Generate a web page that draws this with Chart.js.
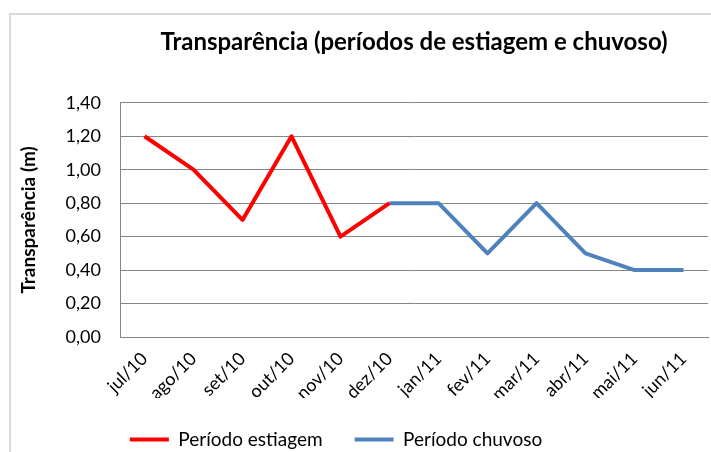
<!DOCTYPE html>
<html>
<head>
<meta charset="utf-8">
<script src="https://cdn.jsdelivr.net/npm/chart.js@4.4.0/dist/chart.umd.min.js"></script>
<style>
  html, body { margin: 0; padding: 0; background: #ffffff; overflow: hidden; width: 711px; height: 452px; }
  #frame { position: absolute; left: 9px; top: 13px; width: 760px; height: 500px; border-top: 2px solid #d9d9d9; border-left: 2px solid #d9d9d9; }
  #wrap { position: absolute; left: -36px; top: 0; width: 764px; height: 459px; }
</style>
</head>
<body>
<div id="frame"></div>
<div id="wrap"><canvas id="c" width="764" height="459"></canvas></div>
<script>
const categories = ['jul/10','ago/10','set/10','out/10','nov/10','dez/10','jan/11','fev/11','mar/11','abr/11','mai/11','jun/11'];
const estiagem = [1.2, 1.0, 0.7, 1.2, 0.6, 0.8, null, null, null, null, null, null];
const chuvoso  = [null, null, null, null, null, 0.8, 0.8, 0.5, 0.8, 0.5, 0.4, 0.4];
const yTicks = [0, 0.2, 0.4, 0.6, 0.8, 1.0, 1.2, 1.4];
const titleText = 'Transparência (períodos de estiagem e chuvoso)';
const yTitle = 'Transparência (m)';
const seriesNames = ['Período estiagem', 'Período chuvoso'];

const FONT = 'Lato, "Open Sans", sans-serif';

new Chart(document.getElementById('c'), {
  type: 'line',
  data: {
    labels: categories,
    datasets: [
      { label: seriesNames[0], data: estiagem, borderColor: '#ff0000', backgroundColor: '#ff0000', borderWidth: 4, pointRadius: 0, tension: 0, spanGaps: false, borderCapStyle: 'butt', borderJoinStyle: 'round' },
      { label: seriesNames[1], data: chuvoso, borderColor: '#4f81bd', backgroundColor: '#4f81bd', borderWidth: 4, pointRadius: 0, tension: 0, spanGaps: false, borderCapStyle: 'butt', borderJoinStyle: 'round' }
    ]
  },
  options: {
    responsive: false,
    animation: false,
    layout: { padding: { left: 0, right: 20, top: 12, bottom: 0 } },
    plugins: {
      title: {
        display: true, text: titleText, color: '#000000', fullSize: false,
        font: { family: FONT, size: 24, weight: 'bold' },
        padding: { top: 16, bottom: 46 }
      },
      legend: {
        position: 'bottom',
        labels: {
          usePointStyle: true, pointStyle: 'line', pointStyleWidth: 39,
          color: '#000000', font: { family: FONT, size: 19 }, padding: 32
        }
      },
      tooltip: { enabled: false }
    },
    scales: {
      x: {
        type: 'category',
        offset: true,
        afterFit: (s) => { s.height = 61; },
        grid: { display: false, drawTicks: false },
        border: { display: true, color: '#868686', width: 1 },
        ticks: { color: '#000000', font: { family: FONT, size: 18 }, maxRotation: 45, minRotation: 45, padding: 11, autoSkip: false }
      },
      y: {
        min: 0, max: 1.4,
        afterBuildTicks: (s) => { s.ticks = yTicks.map(v => ({ value: v })); },
        afterFit: (s) => { s.width = 156; },
        grid: { color: '#868686', lineWidth: 1, drawTicks: false },
        border: { display: true, color: '#868686', width: 1 },
        ticks: { color: '#000000', font: { family: FONT, size: 18 }, padding: 19,
          callback: (v) => Number(v).toFixed(2).replace('.', ',') },
        title: { display: true, text: yTitle, color: '#000000', font: { family: FONT, size: 19, weight: 'bold' }, padding: { top: 53, bottom: 0 } }
      }
    }
  }
});
</script>
</body>
</html>
